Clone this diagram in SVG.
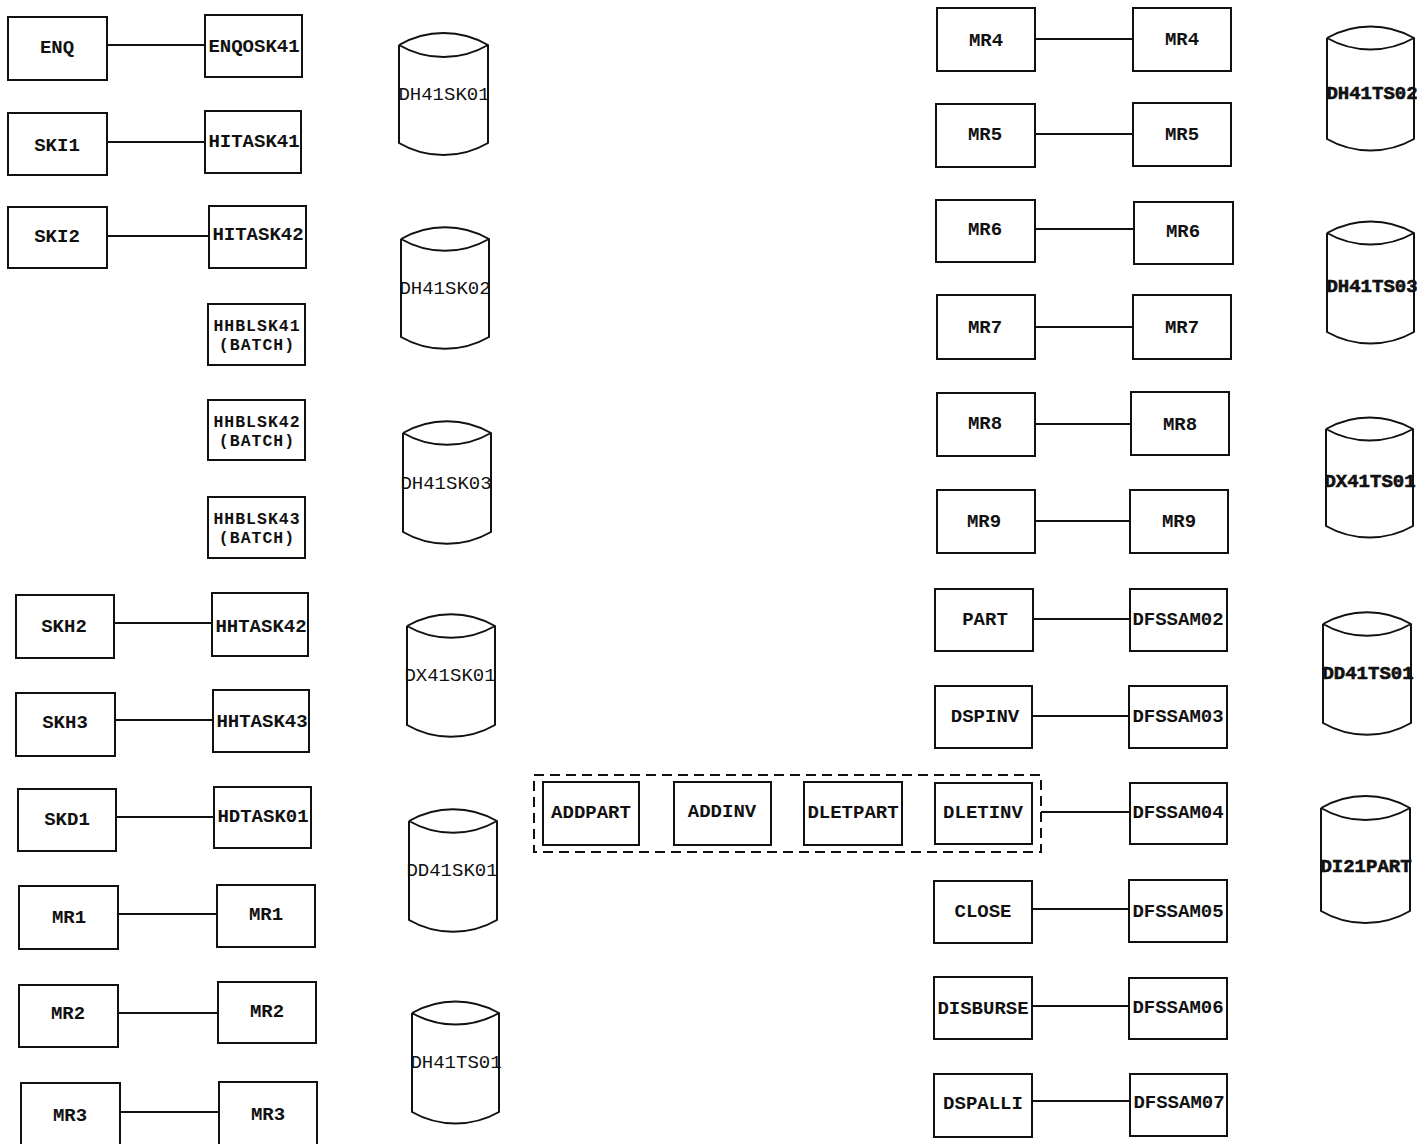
<svg xmlns="http://www.w3.org/2000/svg" width="1417" height="1144" viewBox="0 0 1417 1144">
<style>
rect.b{fill:#fff;stroke:#111;stroke-width:2}
rect.dash{fill:none;stroke:#111;stroke-width:2;stroke-dasharray:10 6}
path.cyl{fill:#fff;stroke:#111;stroke-width:2;stroke-linejoin:round}
line.c{stroke:#111;stroke-width:2}
text{font-family:"Liberation Mono","Courier New",monospace;font-size:19px;font-weight:bold;fill:#111;text-anchor:middle}
text.n{font-weight:normal}
text.h{font-weight:900;stroke:#111;stroke-width:0.6}
text.s{font-size:16.5px;letter-spacing:1px}
</style>
<rect width="1417" height="1144" fill="#fff"/>

<g id="connectors">
<line class="c" x1="107" y1="45" x2="205" y2="45"/>
<line class="c" x1="107" y1="142" x2="205" y2="142"/>
<line class="c" x1="107" y1="236" x2="209" y2="236"/>
<line class="c" x1="114" y1="623" x2="212" y2="623"/>
<line class="c" x1="115" y1="720" x2="213" y2="720"/>
<line class="c" x1="116" y1="817" x2="214" y2="817"/>
<line class="c" x1="118" y1="914" x2="217" y2="914"/>
<line class="c" x1="118" y1="1013" x2="218" y2="1013"/>
<line class="c" x1="120" y1="1112" x2="219" y2="1112"/>
<line class="c" x1="1035" y1="39" x2="1133" y2="39"/>
<line class="c" x1="1035" y1="134" x2="1133" y2="134"/>
<line class="c" x1="1035" y1="229" x2="1134" y2="229"/>
<line class="c" x1="1035" y1="327" x2="1133" y2="327"/>
<line class="c" x1="1035" y1="424" x2="1131" y2="424"/>
<line class="c" x1="1035" y1="521" x2="1130" y2="521"/>
<line class="c" x1="1033" y1="619" x2="1130" y2="619"/>
<line class="c" x1="1032" y1="716" x2="1129" y2="716"/>
<line class="c" x1="1041" y1="812" x2="1130" y2="812"/>
<line class="c" x1="1032" y1="909" x2="1129" y2="909"/>
<line class="c" x1="1032" y1="1006" x2="1129" y2="1006"/>
<line class="c" x1="1032" y1="1101" x2="1130" y2="1101"/>
</g>

<!-- left column -->
<g id="ENQ"><rect class="b" x="8" y="17" width="99" height="63"/><text x="57" y="53">ENQ</text></g>
<g id="ENQOSK41"><rect class="b" x="205" y="15" width="97" height="62"/><text x="254" y="52">ENQOSK41</text></g>
<g id="SKI1"><rect class="b" x="8" y="113" width="99" height="62"/><text x="57" y="151">SKI1</text></g>
<g id="HITASK41"><rect class="b" x="205" y="111" width="96" height="62"/><text x="254" y="147">HITASK41</text></g>
<g id="SKI2"><rect class="b" x="8" y="207" width="99" height="61"/><text x="57" y="242">SKI2</text></g>
<g id="HITASK42"><rect class="b" x="209" y="206" width="97" height="62"/><text x="258" y="240">HITASK42</text></g>
<g id="HHBLSK41"><rect class="b" x="208" y="304" width="97" height="61"/><text class="s" x="257" y="331">HHBLSK41</text><text class="s" x="257" y="350">(BATCH)</text></g>
<g id="HHBLSK42"><rect class="b" x="208" y="400" width="97" height="60"/><text class="s" x="257" y="427">HHBLSK42</text><text class="s" x="257" y="446">(BATCH)</text></g>
<g id="HHBLSK43"><rect class="b" x="208" y="497" width="97" height="61"/><text class="s" x="257" y="524">HHBLSK43</text><text class="s" x="257" y="543">(BATCH)</text></g>
<g id="SKH2"><rect class="b" x="16" y="595" width="98" height="63"/><text x="64" y="632">SKH2</text></g>
<g id="HHTASK42"><rect class="b" x="212" y="593" width="96" height="63"/><text x="261" y="632">HHTASK42</text></g>
<g id="SKH3"><rect class="b" x="16" y="693" width="99" height="63"/><text x="65" y="728">SKH3</text></g>
<g id="HHTASK43"><rect class="b" x="213" y="690" width="96" height="62"/><text x="262" y="727">HHTASK43</text></g>
<g id="SKD1"><rect class="b" x="18" y="789" width="98" height="62"/><text x="67" y="825">SKD1</text></g>
<g id="HDTASK01"><rect class="b" x="214" y="787" width="97" height="61"/><text x="263" y="822">HDTASK01</text></g>
<g id="MR1a"><rect class="b" x="19" y="886" width="99" height="63"/><text x="69" y="923">MR1</text></g>
<g id="MR1b"><rect class="b" x="217" y="885" width="98" height="62"/><text x="266" y="920">MR1</text></g>
<g id="MR2a"><rect class="b" x="19" y="985" width="99" height="62"/><text x="68" y="1019">MR2</text></g>
<g id="MR2b"><rect class="b" x="218" y="982" width="98" height="61"/><text x="267" y="1017">MR2</text></g>
<g id="MR3a"><rect class="b" x="21" y="1083" width="99" height="70"/><text x="70" y="1121">MR3</text></g>
<g id="MR3b"><rect class="b" x="219" y="1082" width="98" height="70"/><text x="268" y="1120">MR3</text></g>

<!-- left cylinders -->
<g id="DH41SK01"><path class="cyl" d="M399 45 A88 88 0 0 1 488 45 A88 88 0 0 1 399 45 M399 45 L399 143 A88 88 0 0 0 488 143 L488 45"/><text class="n" x="444" y="100">DH41SK01</text></g>
<g id="DH41SK02"><path class="cyl" d="M401 239 A88 88 0 0 1 489 239 A88 88 0 0 1 401 239 M401 239 L401 337 A88 88 0 0 0 489 337 L489 239"/><text class="n" x="445" y="294">DH41SK02</text></g>
<g id="DH41SK03"><path class="cyl" d="M403 433 A88 88 0 0 1 491 433 A88 88 0 0 1 403 433 M403 433 L403 532 A88 88 0 0 0 491 532 L491 433"/><text class="n" x="446" y="489">DH41SK03</text></g>
<g id="DX41SK01"><path class="cyl" d="M407 626 A88 88 0 0 1 495 626 A88 88 0 0 1 407 626 M407 626 L407 725 A88 88 0 0 0 495 725 L495 626"/><text class="n" x="450" y="681">DX41SK01</text></g>
<g id="DD41SK01"><path class="cyl" d="M409 821 A88 88 0 0 1 497 821 A88 88 0 0 1 409 821 M409 821 L409 920 A88 88 0 0 0 497 920 L497 821"/><text class="n" x="452" y="876">DD41SK01</text></g>
<g id="DH41TS01"><path class="cyl" d="M412 1013 A88 88 0 0 1 499 1013 A88 88 0 0 1 412 1013 M412 1013 L412 1112 A88 88 0 0 0 499 1112 L499 1013"/><text class="n" x="456" y="1068">DH41TS01</text></g>

<!-- middle dashed group -->
<g id="group"><rect class="dash" x="534" y="775" width="507" height="77"/></g>
<g id="ADDPART"><rect class="b" x="543" y="782" width="96" height="63"/><text x="591" y="818">ADDPART</text></g>
<g id="ADDINV"><rect class="b" x="674" y="782" width="97" height="63"/><text x="722" y="817">ADDINV</text></g>
<g id="DLETPART"><rect class="b" x="804" y="782" width="98" height="63"/><text x="853" y="818">DLETPART</text></g>
<g id="DLETINV"><rect class="b" x="935" y="783" width="97" height="61"/><text x="983" y="818">DLETINV</text></g>

<!-- right column -->
<g id="MR4a"><rect class="b" x="937" y="8" width="98" height="63"/><text x="986" y="46">MR4</text></g>
<g id="MR4b"><rect class="b" x="1133" y="8" width="98" height="63"/><text x="1182" y="45">MR4</text></g>
<g id="MR5a"><rect class="b" x="936" y="104" width="99" height="63"/><text x="985" y="140">MR5</text></g>
<g id="MR5b"><rect class="b" x="1133" y="103" width="98" height="63"/><text x="1182" y="140">MR5</text></g>
<g id="MR6a"><rect class="b" x="936" y="200" width="99" height="62"/><text x="985" y="235">MR6</text></g>
<g id="MR6b"><rect class="b" x="1134" y="202" width="99" height="62"/><text x="1183" y="237">MR6</text></g>
<g id="MR7a"><rect class="b" x="937" y="295" width="98" height="64"/><text x="985" y="333">MR7</text></g>
<g id="MR7b"><rect class="b" x="1133" y="295" width="98" height="64"/><text x="1182" y="333">MR7</text></g>
<g id="MR8a"><rect class="b" x="937" y="393" width="98" height="63"/><text x="985" y="429">MR8</text></g>
<g id="MR8b"><rect class="b" x="1131" y="392" width="98" height="63"/><text x="1180" y="430">MR8</text></g>
<g id="MR9a"><rect class="b" x="937" y="490" width="98" height="63"/><text x="984" y="527">MR9</text></g>
<g id="MR9b"><rect class="b" x="1130" y="490" width="98" height="63"/><text x="1179" y="527">MR9</text></g>
<g id="PART"><rect class="b" x="935" y="589" width="98" height="62"/><text x="985" y="625">PART</text></g>
<g id="DFSSAM02"><rect class="b" x="1130" y="589" width="97" height="62"/><text x="1178" y="625">DFSSAM02</text></g>
<g id="DSPINV"><rect class="b" x="935" y="686" width="97" height="62"/><text x="985" y="722">DSPINV</text></g>
<g id="DFSSAM03"><rect class="b" x="1129" y="686" width="98" height="62"/><text x="1178" y="722">DFSSAM03</text></g>
<g id="DFSSAM04"><rect class="b" x="1130" y="783" width="97" height="61"/><text x="1178" y="818">DFSSAM04</text></g>
<g id="CLOSE"><rect class="b" x="934" y="881" width="98" height="62"/><text x="983" y="917">CLOSE</text></g>
<g id="DFSSAM05"><rect class="b" x="1129" y="880" width="98" height="62"/><text x="1178" y="917">DFSSAM05</text></g>
<g id="DISBURSE"><rect class="b" x="934" y="977" width="98" height="62"/><text x="983" y="1014">DISBURSE</text></g>
<g id="DFSSAM06"><rect class="b" x="1129" y="978" width="98" height="61"/><text x="1178" y="1013">DFSSAM06</text></g>
<g id="DSPALLI"><rect class="b" x="934" y="1074" width="98" height="63"/><text x="983" y="1109">DSPALLI</text></g>
<g id="DFSSAM07"><rect class="b" x="1130" y="1074" width="97" height="62"/><text x="1179" y="1108">DFSSAM07</text></g>

<!-- right cylinders -->
<g id="DH41TS02"><path class="cyl" d="M1327 38 A88 88 0 0 1 1414 38 A88 88 0 0 1 1327 38 M1327 38 L1327 139 A88 88 0 0 0 1414 139 L1414 38"/><text class="h" x="1372" y="99">DH41TS02</text></g>
<g id="DH41TS03"><path class="cyl" d="M1327 233 A88 88 0 0 1 1414 233 A88 88 0 0 1 1327 233 M1327 233 L1327 332 A88 88 0 0 0 1414 332 L1414 233"/><text class="h" x="1372" y="292">DH41TS03</text></g>
<g id="DX41TS01"><path class="cyl" d="M1326 429 A88 88 0 0 1 1413 429 A88 88 0 0 1 1326 429 M1326 429 L1326 526 A88 88 0 0 0 1413 526 L1413 429"/><text class="h" x="1370" y="487">DX41TS01</text></g>
<g id="DD41TS01"><path class="cyl" d="M1323 624 A88 88 0 0 1 1411 624 A88 88 0 0 1 1323 624 M1323 624 L1323 723 A88 88 0 0 0 1411 723 L1411 624"/><text class="h" x="1368" y="679">DD41TS01</text></g>
<g id="DI21PART"><path class="cyl" d="M1321 808 A88 88 0 0 1 1410 808 A88 88 0 0 1 1321 808 M1321 808 L1321 911 A88 88 0 0 0 1410 911 L1410 808"/><text class="h" x="1366" y="872">DI21PART</text></g>
</svg>
